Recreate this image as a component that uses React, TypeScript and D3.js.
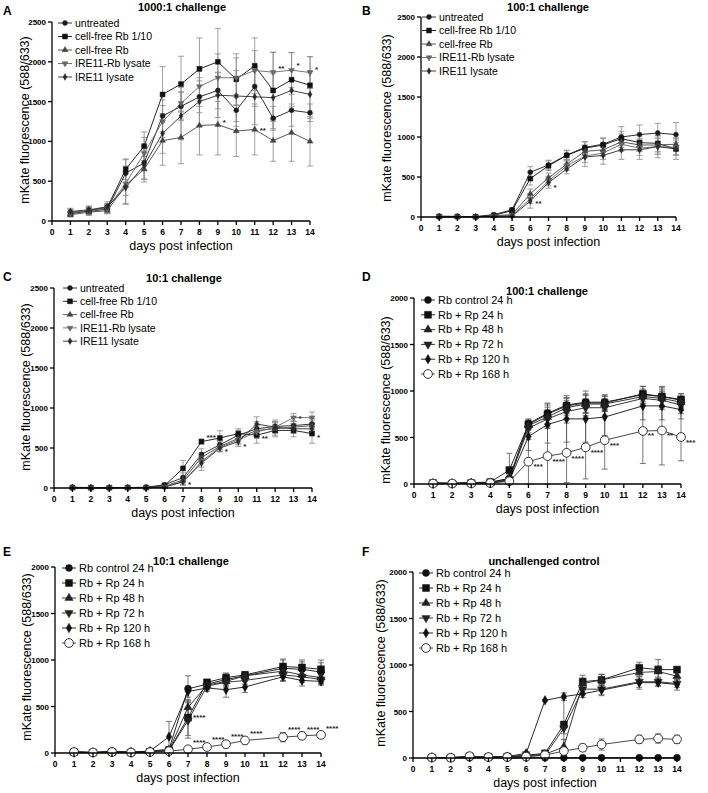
import React from "react";
import * as d3 from "d3";

const FONT = "'Liberation Sans', Arial, Helvetica, sans-serif";

// ---- data ----
const daysABC = [1, 2, 3, 4, 5, 6, 7, 8, 9, 10, 11, 12, 13, 14];
const daysDEF = [1, 2, 3, 4, 5, 6, 7, 8, 9, 10, 12, 13, 14];

const groupsABC = ["untreated", "cell-free Rb 1/10", "cell-free Rb", "IRE11-Rb lysate", "IRE11 lysate"];
const groupsDEF = ["Rb control 24 h", "Rb + Rp 24 h", "Rb + Rp 48 h", "Rb + Rp 72 h", "Rb + Rp 120 h", "Rb + Rp 168 h"];

// panel A: 1000:1 challenge
const meanA = [
  [110, 120, 150, 600, 730, 1320, 1440, 1560, 1640, 1390, 1690, 1290, 1390, 1360],
  [90, 130, 170, 650, 940, 1590, 1720, 1910, 2000, 1780, 1950, 1640, 1775, 1705],
  [80, 110, 130, 450, 650, 1010, 1050, 1200, 1210, 1130, 1150, 1010, 1110, 1000],
  [100, 130, 160, 470, 850, 1250, 1480, 1690, 1800, 1800, 1890, 1870, 1895, 1865],
  [120, 140, 180, 420, 700, 1100, 1320, 1500, 1580, 1570, 1560, 1550, 1640, 1590],
];
const sdA = [
  [40, 50, 60, 170, 200, 200, 180, 200, 230, 200, 250, 150, 200, 110],
  [30, 40, 40, 130, 180, 350, 350, 390, 420, 320, 350, 480, 340, 360],
  [30, 30, 30, 240, 160, 310, 330, 370, 380, 320, 320, 260, 360, 310],
  [40, 50, 60, 150, 200, 200, 200, 250, 300, 250, 250, 250, 220, 200],
  [40, 50, 60, 200, 180, 250, 300, 300, 280, 320, 350, 300, 250, 300],
];
const starsA: [number, number, string][] = [
  [9, 1250, "*"], [11, 1140, "**"], [12, 1920, "**"], [13, 1960, "*"], [14, 1910, "*"],
];

// panel B: 100:1 challenge
const meanB = [
  [10, 8, 5, 30, 90, 560, 650, 775, 870, 910, 1000, 1030, 1050, 1030],
  [5, 5, 3, 20, 80, 480, 640, 770, 860, 900, 980, 930, 920, 850],
  [3, 3, 2, 15, 30, 290, 490, 660, 820, 840, 940, 900, 900, 910],
  [2, 2, 2, 10, 20, 230, 450, 640, 760, 800, 910, 860, 880, 870],
  [2, 2, 1, 10, 10, 200, 430, 600, 750, 770, 840, 840, 880, 850],
];
const sdB = [
  [10, 10, 10, 10, 30, 70, 60, 60, 70, 80, 130, 120, 120, 150],
  [10, 10, 10, 10, 30, 80, 60, 60, 80, 80, 90, 100, 100, 80],
  [5, 5, 5, 10, 20, 60, 60, 60, 80, 80, 100, 80, 100, 80],
  [5, 5, 5, 10, 20, 60, 60, 60, 80, 80, 90, 90, 100, 90],
  [5, 5, 5, 10, 10, 90, 70, 60, 120, 110, 120, 120, 140, 130],
];
const starsB: [number, number, string][] = [[7, 370, "*"], [6, 170, "**"]];

// panel C: 10:1 challenge
const meanC = [
  [10, 5, 5, 5, 10, 40, 130, 420, 540, 660, 740, 770, 780, 800],
  [5, 3, 3, 5, 5, 30, 245, 580, 625, 680, 660, 720, 720, 680],
  [5, 3, 3, 3, 5, 20, 100, 380, 520, 620, 720, 740, 760, 780],
  [3, 3, 2, 3, 5, 15, 75, 330, 510, 600, 700, 760, 880, 880],
  [3, 2, 2, 3, 5, 10, 80, 310, 500, 580, 800, 760, 740, 740],
];
const sdC = [
  [5, 5, 5, 5, 10, 20, 60, 70, 60, 60, 90, 80, 60, 70],
  [5, 5, 5, 5, 5, 20, 100, 30, 90, 60, 100, 80, 80, 120],
  [5, 5, 5, 5, 5, 20, 50, 60, 60, 60, 80, 80, 70, 70],
  [5, 5, 5, 5, 5, 15, 40, 70, 50, 60, 80, 70, 50, 70],
  [5, 5, 5, 5, 5, 15, 40, 90, 50, 60, 90, 70, 60, 70],
];
const starsC: [number, number, string][] = [
  [8, 640, "***"], [7, 50, "*"], [9, 460, "*"], [10, 530, "*"], [11, 630, "**"], [13, 880, "*"], [14, 640, "*"],
];

// panel D: 100:1 challenge
const meanD = [
  [15, 10, 15, 20, 60, 650, 760, 850, 880, 880, 960, 940, 900],
  [10, 5, 10, 20, 150, 640, 750, 840, 870, 870, 970, 940, 910],
  [5, 5, 10, 15, 60, 630, 720, 820, 860, 860, 940, 920, 880],
  [5, 5, 10, 15, 50, 600, 700, 780, 820, 820, 920, 900, 850],
  [5, 5, 10, 10, 40, 510, 640, 700, 700, 720, 840, 840, 800],
  [5, 5, 5, 10, 30, 240, 300, 335, 395, 470, 570, 575, 505],
];
const sdD = [
  [10, 10, 10, 10, 60, 50, 110, 80, 120, 80, 90, 110, 70],
  [10, 10, 10, 10, 180, 50, 110, 80, 100, 80, 80, 100, 60],
  [10, 10, 10, 10, 60, 50, 100, 80, 100, 80, 80, 100, 60],
  [10, 10, 10, 10, 50, 50, 100, 80, 100, 80, 80, 100, 60],
  [10, 10, 10, 10, 40, 150, 200, 250, 250, 200, 150, 150, 100],
  [10, 10, 10, 10, 30, 240, 300, 320, 340, 310, 350, 370, 255],
];
const starsD: [number, number, string][] = [
  [6, 190, "***"], [7, 250, "****"], [8, 280, "****"], [9, 340, "****"], [10, 420, "***"],
  [12, 530, "**"], [13, 530, "**"], [14, 450, "***"],
];

// panel E: 10:1 challenge
const meanE = [
  [15, 5, 20, 10, 20, 40, 690, 740, 790, 830, 910, 900, 870],
  [10, 5, 10, 5, 15, 30, 380, 760, 810, 840, 930, 920, 900],
  [10, 5, 10, 5, 15, 30, 490, 730, 770, 830, 880, 840, 810],
  [5, 5, 10, 5, 10, 25, 350, 720, 760, 780, 840, 820, 790],
  [10, 5, 15, 10, 20, 175, 660, 700, 680, 710, 820, 780, 770],
  [10, 5, 10, 5, 10, 20, 40, 65, 95, 135, 170, 185, 195],
];
const sdE = [
  [10, 5, 10, 5, 10, 20, 140, 40, 60, 40, 90, 80, 100],
  [5, 5, 5, 5, 10, 20, 190, 30, 50, 30, 80, 80, 100],
  [5, 5, 5, 5, 10, 20, 80, 40, 50, 40, 60, 60, 60],
  [5, 5, 5, 5, 10, 20, 190, 40, 50, 40, 60, 60, 50],
  [5, 5, 5, 5, 10, 165, 60, 40, 80, 60, 50, 60, 40],
  [5, 5, 5, 5, 5, 10, 20, 20, 40, 40, 50, 40, 30],
];
const starsE: [number, number, string][] = [
  [7, 390, "****"], [7, 120, "****"], [8, 150, "****"], [9, 180, "****"], [10, 220, "****"],
  [12, 260, "****"], [13, 260, "****"], [14, 270, "****"],
];

// panel F: unchallenged control
const meanF = [
  [5, 2, 2, 2, 2, 2, 2, 2, 2, 2, 2, 2, 2],
  [5, 3, 20, 10, 15, 30, 50, 360, 820, 840, 970, 950, 950],
  [5, 3, 15, 10, 10, 25, 40, 120, 800, 840, 920, 930, 880],
  [5, 3, 10, 10, 10, 20, 30, 320, 740, 740, 820, 820, 800],
  [5, 3, 10, 10, 15, 50, 620, 660, 690, 730, 810, 810, 790],
  [5, 3, 20, 10, 10, 15, 30, 75, 110, 145, 200, 210, 200],
];
const sdF = [
  [5, 3, 3, 3, 3, 3, 3, 3, 3, 3, 3, 3, 3],
  [5, 5, 10, 5, 5, 10, 10, 280, 70, 60, 60, 110, 30],
  [5, 5, 10, 5, 5, 10, 10, 80, 60, 60, 60, 60, 40],
  [5, 5, 10, 5, 5, 10, 10, 60, 60, 60, 60, 40, 40],
  [5, 5, 5, 5, 5, 10, 10, 40, 40, 60, 70, 40, 60],
  [5, 5, 10, 5, 5, 10, 10, 30, 40, 60, 45, 50, 45],
];
const starsF: [number, number, string][] = [];

// ---- drawing ----
type Shape = "circle" | "square" | "triangle" | "tridown" | "diamond" | "open";
const shapesABC: Shape[] = ["circle", "square", "triangle", "tridown", "diamond"];
const shapesDEF: Shape[] = ["circle", "square", "triangle", "tridown", "diamond", "open"];
const colorsABC = ["#1a1a1a", "#111", "#444", "#666", "#2a2a2a"];
const colorsDEF = ["#111", "#111", "#222", "#222", "#111", "#333"];

const symbolType = (s: Shape) =>
  s === "square" ? d3.symbolSquare
  : s === "triangle" || s === "tridown" ? d3.symbolTriangle
  : s === "diamond" ? d3.symbolDiamond
  : d3.symbolCircle;

function Marker({ shape, x, y, color, big }: { shape: Shape; x: number; y: number; color: string; big: boolean }) {
  const base = big ? 1 : 0.5;
  const size = (shape === "open" ? 60 : shape === "square" ? 48 : shape === "diamond" ? 26 : shape === "circle" ? 38 : 30) * base;
  const d = d3.symbol().type(symbolType(shape)).size(size)() || "";
  const rot = shape === "tridown" ? 180 : 0;
  return (
    <path
      d={d}
      transform={`translate(${x},${y}) rotate(${rot})`}
      fill={shape === "open" ? "#fff" : color}
      stroke={color}
      strokeWidth={shape === "open" ? 1 : 0.5}
    />
  );
}

interface PanelProps {
  letter: string; letterX: number; letterY: number;
  title: string; titleX: number; titleY: number;
  x0: number; x1: number; yBottom: number; yTop: number; yMax: number;
  days: number[]; groups: string[]; shapes: Shape[]; colors: string[];
  means: number[][]; sds: number[][]; stars: [number, number, string][];
  legendX: number; legendY: number; legendStep: number;
  labelX: number; labelY: number; big: boolean;
}

function Panel(p: PanelProps) {
  const x = d3.scaleLinear().domain([0, 14]).range([p.x0, p.x1]);
  const y = d3.scaleLinear().domain([0, p.yMax]).range([p.yBottom, p.yTop]);
  const line = d3.line<[number, number]>().x((d) => x(d[0])).y((d) => y(d[1]));
  const yTicks = d3.range(0, p.yMax + 1, 500);
  const xTicks = d3.range(0, 15);
  const errColor = p.big ? "#555" : "#888";
  return (
    <g fontFamily={FONT}>
      <text x={p.letterX} y={p.letterY} fontSize={12} fontWeight="bold">{p.letter}</text>
      <text x={p.titleX} y={p.titleY} fontSize={11} fontWeight="bold" textAnchor="middle">{p.title}</text>
      <text
        transform={`translate(${p.labelX},${p.labelY}) rotate(-90)`}
        fontSize={12.5}
        textAnchor="middle"
        dominantBaseline="middle"
      >mKate fluorescence (588/633)</text>
      <text x={(p.x0 + p.x1) / 2} y={p.yBottom + 29} fontSize={12.5} textAnchor="middle">days post infection</text>

      {/* error bars */}
      {p.means.map((m, si) => (
        <g key={"e" + si} stroke={errColor} strokeWidth={0.8}>
          {m.map((v, i) => {
            const cx = x(p.days[i]);
            const lo = y(Math.max(0, v - p.sds[si][i]));
            const hi = y(v + p.sds[si][i]);
            return (
              <g key={i}>
                <line x1={cx} x2={cx} y1={lo} y2={hi} />
                <line x1={cx - 3} x2={cx + 3} y1={hi} y2={hi} />
                <line x1={cx - 3} x2={cx + 3} y1={lo} y2={lo} />
              </g>
            );
          })}
        </g>
      ))}
      {/* lines */}
      {p.means.map((m, si) => (
        <path
          key={"l" + si}
          d={line(m.map((v, i) => [p.days[i], v] as [number, number])) || ""}
          fill="none"
          stroke={p.colors[si]}
          strokeWidth={0.9}
        />
      ))}
      {/* markers */}
      {p.means.map((m, si) => (
        <g key={"m" + si}>
          {m.map((v, i) => (
            <Marker key={i} shape={p.shapes[si]} x={x(p.days[i])} y={y(v)} color={p.colors[si]} big={p.big} />
          ))}
        </g>
      ))}
      {/* stars */}
      {p.stars.map(([d, v, s], i) => (
        <text key={"s" + i} x={x(d) + 5} y={y(v) + 3} fontSize={8} fontWeight="bold" fill="#222">{s}</text>
      ))}

      {/* axes */}
      <g stroke="#000" strokeWidth={1.3} fill="none">
        <line x1={p.x0} x2={p.x0} y1={y(p.yMax)} y2={p.yBottom} />
        <line x1={p.x0} x2={p.x1} y1={p.yBottom} y2={p.yBottom} />
        {yTicks.map((t) => <line key={"yt" + t} x1={p.x0 - 4} x2={p.x0} y1={y(t)} y2={y(t)} />)}
        {xTicks.map((t) => <line key={"xt" + t} x1={x(t)} x2={x(t)} y1={p.yBottom} y2={p.yBottom + 4} />)}
      </g>
      {yTicks.map((t) => (
        <text key={"yl" + t} x={p.x0 - 6} y={y(t) + 3} fontSize={8} fontWeight="bold" textAnchor="end">{t}</text>
      ))}
      {xTicks.map((t) => (
        <text key={"xl" + t} x={x(t)} y={p.yBottom + 14} fontSize={8.5} fontWeight="bold" textAnchor="middle">{t}</text>
      ))}

      {/* legend */}
      {p.groups.map((g, i) => {
        const ly = p.legendY + i * p.legendStep;
        return (
          <g key={"lg" + i}>
            <line x1={p.legendX} x2={p.legendX + 14} y1={ly} y2={ly} stroke={p.colors[i]} strokeWidth={0.9} />
            <Marker shape={p.shapes[i]} x={p.legendX + 7} y={ly} color={p.colors[i]} big={p.big} />
            <text x={p.legendX + 17} y={ly + 3.8} fontSize={p.big ? 11 : 10.5}>{g}</text>
          </g>
        );
      })}
    </g>
  );
}

export default function App() {
  return (
    <svg width={708} height={793} style={{ position: "absolute", left: 0, top: 0, background: "#fff" }}>
      <rect width={708} height={793} fill="#fff" />
      <Panel letter="A" letterX={3} letterY={15} title="1000:1 challenge" titleX={182} titleY={11}
        x0={52} x1={310} yBottom={221} yTop={22} yMax={2500} days={daysABC} groups={groupsABC}
        shapes={shapesABC} colors={colorsABC} means={meanA} sds={sdA} stars={starsA}
        legendX={58} legendY={23} legendStep={13.5} labelX={26} labelY={120} big={false} />
      <Panel letter="B" letterX={362} letterY={15} title="100:1 challenge" titleX={548} titleY={11}
        x0={421} x1={676} yBottom={217} yTop={17} yMax={2500} days={daysABC} groups={groupsABC}
        shapes={shapesABC} colors={colorsABC} means={meanB} sds={sdB} stars={starsB}
        legendX={422} legendY={17} legendStep={13.5} labelX={388} labelY={118} big={false} />
      <Panel letter="C" letterX={3} letterY={281} title="10:1 challenge" titleX={184} titleY={282}
        x0={54} x1={312} yBottom={488} yTop={288} yMax={2500} days={daysABC} groups={groupsABC}
        shapes={shapesABC} colors={colorsABC} means={meanC} sds={sdC} stars={starsC}
        legendX={63} legendY={288} legendStep={13.3} labelX={27} labelY={387} big={false} />
      <Panel letter="D" letterX={362} letterY={281} title="100:1 challenge" titleX={547} titleY={295}
        x0={414} x1={681} yBottom={484} yTop={298} yMax={2000} days={daysDEF} groups={groupsDEF}
        shapes={shapesDEF} colors={colorsDEF} means={meanD} sds={sdD} stars={starsD}
        legendX={421} legendY={300} legendStep={14.8} labelX={387} labelY={400} big={true} />
      <Panel letter="E" letterX={3} letterY={556} title="10:1 challenge" titleX={191} titleY={565}
        x0={55} x1={321} yBottom={753} yTop={567} yMax={2000} days={daysDEF} groups={groupsDEF}
        shapes={shapesDEF} colors={colorsDEF} means={meanE} sds={sdE} stars={starsE}
        legendX={62} legendY={568} legendStep={15} labelX={28} labelY={657} big={true} />
      <Panel letter="F" letterX={362} letterY={556} title="unchallenged control" titleX={544} titleY={565}
        x0={413} x1={677} yBottom={758} yTop={572} yMax={2000} days={daysDEF} groups={groupsDEF}
        shapes={shapesDEF} colors={colorsDEF} means={meanF} sds={sdF} stars={starsF}
        legendX={419} legendY={573} legendStep={15} labelX={382} labelY={663} big={true} />
    </svg>
  );
}
